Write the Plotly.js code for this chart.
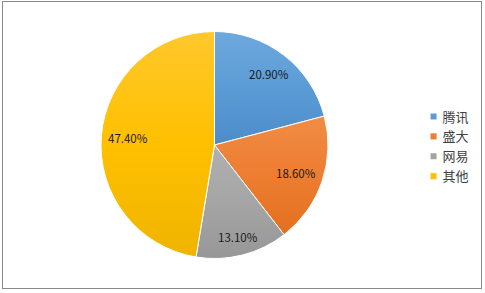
<!DOCTYPE html>
<html>
<head>
<meta charset="utf-8">
<script src="https://cdn.plot.ly/plotly-3.0.1.min.js"></script>
<style>
  html, body { margin: 0; padding: 0; background: #fff; }
  #wrap { position: relative; width: 485px; height: 293px; overflow: hidden; }
  #chart { width: 485px; height: 293px; }
  #frame {
    position: absolute; left: 2px; top: 1px; width: 478px; height: 286px;
    border: 1.5px solid #8a8a8a; pointer-events: none;
  }
  .legend .legendpoints path { transform: translate(31px, 0) scale(0.55); }
</style>
</head>
<body>
<div id="wrap">
  <div id="chart"></div>
  <div id="frame"></div>
</div>
<script>
// Market share by company (percent)
const companies = ['腾讯', '盛大', '网易', '其他'];
const shares = [20.9, 18.6, 13.1, 47.4];
const sliceColors = ['#5b9bd5', '#ed7d31', '#a5a5a5', '#ffc000'];
// lighter top / darker bottom shade for each slice
const shadeTop = ['#6ea9dd', '#f18c45', '#b1b1b1', '#ffc82c'];
const shadeBottom = ['#4d8cca', '#e2701f', '#979797', '#f0b400'];

const W = 485, H = 293;
const pieDomain = { x: [0.2082, 0.6763], y: [0.1177, 0.8925] };
const labelFont = { family: '"Noto Sans CJK SC", "Noto Sans", sans-serif', size: 11.5, color: '#1a1a1a' };

const trace = {
  type: 'pie',
  labels: companies,
  values: shares,
  sort: false,
  direction: 'clockwise',
  rotation: 0,
  marker: { colors: sliceColors, line: { color: '#ffffff', width: 1 } },
  textinfo: 'none',
  hoverinfo: 'none',
  domain: pieDomain
};

// Place each value label inside its slice, pushed toward the rim
// along the slice bisector so the outer corner of the label box
// stays a few pixels inside the circle.
function labelAnnotations() {
  const cx = (pieDomain.x[0] + pieDomain.x[1]) / 2 * W;
  const cyTop = H - (pieDomain.y[0] + pieDomain.y[1]) / 2 * H;
  const R = (pieDomain.x[1] - pieDomain.x[0]) * W / 2;
  const halfW = 19.5, halfH = 6.5, reach = R - 6.5;
  const total = shares.reduce((a, b) => a + b, 0);
  let cum = 0;
  return shares.map((v) => {
    const mid = (cum + v / 2) / total * 2 * Math.PI;
    cum += v;
    const ux = Math.sin(mid), uy = -Math.cos(mid);
    const ox = Math.sign(ux) * halfW, oy = Math.sign(uy) * halfH;
    // solve |d*u + o| = reach for d
    const b = ux * ox + uy * oy;
    const c = ox * ox + oy * oy - reach * reach;
    const d = -b + Math.sqrt(b * b - c);
    const px = cx + d * ux, py = cyTop + d * uy;
    return {
      xref: 'paper', yref: 'paper', x: px / W, y: (H - py) / H,
      xanchor: 'center', yanchor: 'middle', showarrow: false,
      text: v.toFixed(2) + '%', font: labelFont
    };
  });
}

const layout = {
  width: W,
  height: H,
  margin: { l: 0, r: 0, t: 0, b: 0 },
  paper_bgcolor: '#ffffff',
  showlegend: true,
  legend: {
    x: 0.830, y: 0.5, xanchor: 'left', yanchor: 'middle',
    font: { family: '"Noto Sans CJK SC", sans-serif', size: 13, color: '#404040' },
    tracegroupgap: 0, itemclick: false, itemdoubleclick: false
  },
  annotations: labelAnnotations()
};

Plotly.newPlot('chart', [trace], layout, { displayModeBar: false, staticPlot: true }).then((gd) => {
  // vertical shading on each slice
  const svg = gd.querySelector('svg.main-svg');
  const ns = 'http://www.w3.org/2000/svg';
  let defs = svg.querySelector('defs');
  if (!defs) { defs = document.createElementNS(ns, 'defs'); svg.insertBefore(defs, svg.firstChild); }
  const slices = gd.querySelectorAll('.slice path.surface');
  slices.forEach((p, i) => {
    const g = document.createElementNS(ns, 'linearGradient');
    g.setAttribute('id', 'sliceShade' + i);
    g.setAttribute('x1', '0'); g.setAttribute('y1', '0');
    g.setAttribute('x2', '0'); g.setAttribute('y2', '1');
    [[0, shadeTop[i]], [0.5, sliceColors[i]], [1, shadeBottom[i]]].forEach(([o, col]) => {
      const s = document.createElementNS(ns, 'stop');
      s.setAttribute('offset', o);
      s.setAttribute('stop-color', col);
      g.appendChild(s);
    });
    defs.appendChild(g);
    p.style.fill = 'url(#sliceShade' + i + ')';
  });
});
</script>
</body>
</html>
